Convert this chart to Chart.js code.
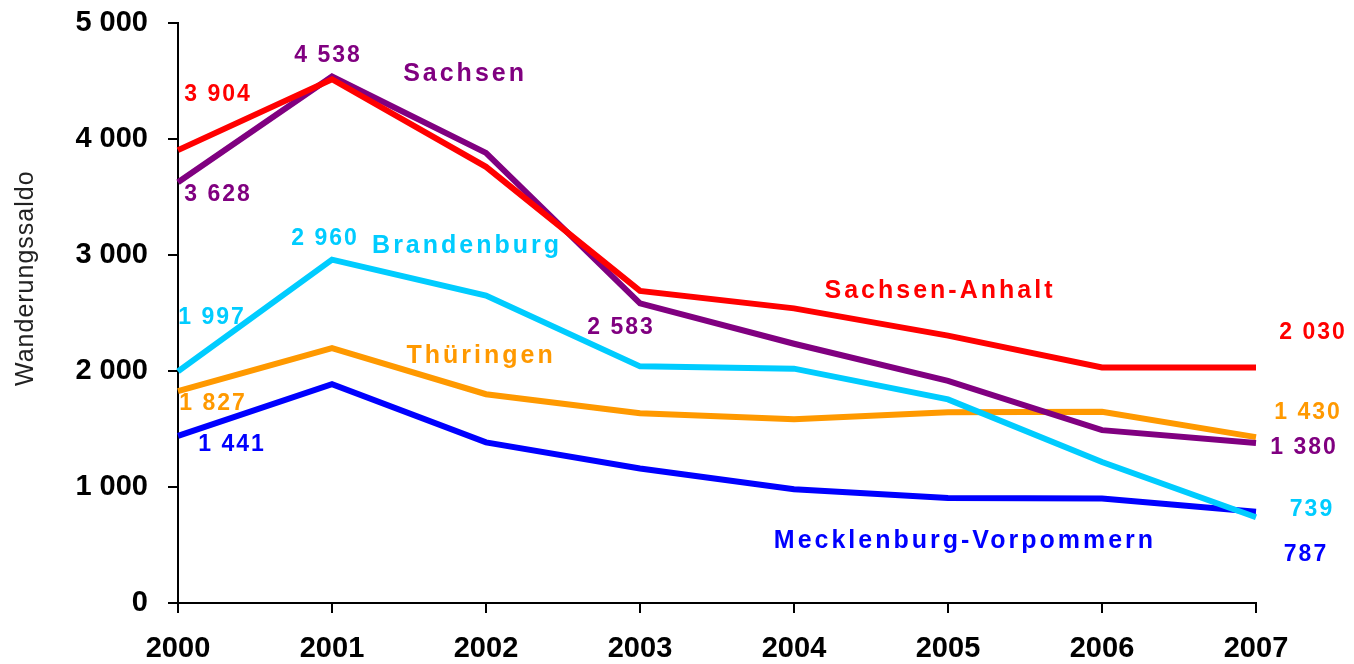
<!DOCTYPE html>
<html>
<head>
<meta charset="utf-8">
<script src="https://cdn.jsdelivr.net/npm/chart.js@4/dist/chart.umd.min.js"></script>
<style>
  html, body { margin: 0; padding: 0; background: #fff; }
  #wrap { width: 1354px; height: 664px; position: relative; }
</style>
</head>
<body>
<div id="wrap"><canvas id="c" width="1354" height="664"></canvas></div>
<script>
// ---- data ----
const years = ['2000', '2001', '2002', '2003', '2004', '2005', '2006', '2007'];
const sachsenAnhalt = [3904, 4515, 3760, 2690, 2540, 2305, 2030, 2030];
const sachsen       = [3628, 4538, 3880, 2583, 2235, 1915, 1490, 1380];
const brandenburg   = [1997, 2960, 2650, 2040, 2020, 1755, 1215, 739];
const thueringen    = [1827, 2198, 1800, 1636, 1585, 1645, 1648, 1430];
const mv            = [1441, 1887, 1385, 1160, 980, 905, 900, 787];
const seriesNames = ['Sachsen-Anhalt', 'Sachsen', 'Brandenburg', 'Thüringen', 'Mecklenburg-Vorpommern'];
const yTicks = [0, 1000, 2000, 3000, 4000, 5000];
const yTitle = 'Wanderungssaldo';

// ---- styling ----
const colors = ['#FF0000', '#800080', '#00CCFF', '#FF9900', '#0000FF'];
const seriesData = [sachsenAnhalt, sachsen, brandenburg, thueringen, mv];
const FONT = '"Liberation Sans", Arial, sans-serif';

function fmt(v) { return String(v).replace(/\B(?=(\d{3})+(?!\d))/g, ' '); }

// value labels: [series, pointIndex, dx, dy]
const valueLabels = [
  [0, 0, 40, -55],
  [1, 1, -4, -21],
  [1, 0, 40, 13],
  [2, 1, -7, -21],
  [2, 0, 34, -54],
  [1, 3, -19, 24],
  [0, 7, 57, -35],
  [3, 0, 35, 13],
  [3, 7, 52, -24],
  [4, 0, 54, 9],
  [1, 7, 48, 5],
  [2, 7, 56, -8],
  [4, 7, 50, 43]
];
// name labels: [series, categoryPosition, value]
const nameLabels = [
  [1, 1.864, 4557],
  [2, 1.877, 3080],
  [0, 4.948, 2690],
  [3, 1.968, 2129],
  [4, 5.11, 530]
];

const labelPlugin = {
  id: 'labels',
  afterDraw(chart) {
    const ctx = chart.ctx;
    const xs = chart.scales.x, ys = chart.scales.y;
    ctx.save();
    ctx.textAlign = 'center';
    ctx.textBaseline = 'middle';
    ctx.font = 'bold 23px ' + FONT;
    if ('letterSpacing' in ctx) ctx.letterSpacing = '2px';
    valueLabels.forEach(([s, i, dx, dy]) => {
      const v = seriesData[s][i];
      const px = xs.getPixelForValue(i);
      const py = ys.getPixelForValue(v);
      ctx.fillStyle = colors[s];
      ctx.fillText(fmt(v), px + dx, py + dy);
    });
    ctx.font = 'bold 25px ' + FONT;
    if ('letterSpacing' in ctx) ctx.letterSpacing = '3px';
    nameLabels.forEach(([s, xi, v]) => {
      ctx.fillStyle = colors[s];
      ctx.fillText(seriesNames[s], xs.getPixelForValue(xi), ys.getPixelForValue(v));
    });
    // y-axis title
    ctx.font = '25px ' + FONT;
    if ('letterSpacing' in ctx) ctx.letterSpacing = '1px';
    ctx.fillStyle = '#222';
    ctx.translate(26, ys.getPixelForValue(2800));
    ctx.rotate(-Math.PI / 2);
    ctx.fillText(yTitle, 0, 0);
    ctx.restore();
  }
};

new Chart(document.getElementById('c'), {
  type: 'line',
  data: {
    labels: years,
    datasets: seriesData.map((d, k) => ({
      label: seriesNames[k],
      data: d,
      borderColor: colors[k],
      backgroundColor: colors[k],
      borderWidth: 6,
      pointRadius: 0,
      tension: 0,
      fill: false
    }))
  },
  options: {
    responsive: false,
    animation: false,
    layout: { padding: { top: 23, right: 98, left: 0, bottom: 0 } },
    plugins: { legend: { display: false }, tooltip: { enabled: false } },
    scales: {
      x: {
        type: 'category',
        offset: false,
        grid: { drawOnChartArea: false, drawTicks: true, tickLength: 10, color: '#000', lineWidth: 2 },
        border: { display: true, color: '#000', width: 2 },
        ticks: { color: '#000', font: { family: FONT, size: 29, weight: 'bold' }, padding: 19, maxRotation: 0 },
        afterFit(scale) { scale.height = 61; }
      },
      y: {
        min: 0, max: 5000,
        afterBuildTicks(scale) { scale.ticks = yTicks.map(v => ({ value: v })); },
        grid: { drawOnChartArea: false, drawTicks: true, tickLength: 10, color: '#000', lineWidth: 2 },
        border: { display: true, color: '#000', width: 2 },
        ticks: { color: '#000', font: { family: FONT, size: 29, weight: 'bold' }, padding: 20, callback: v => fmt(v) },
        title: { display: false },
        afterFit(scale) { scale.width = 178; scale.paddingTop = 0; scale.paddingBottom = 0; }
      }
    }
  },
  plugins: [labelPlugin]
});
</script>
</body>
</html>
